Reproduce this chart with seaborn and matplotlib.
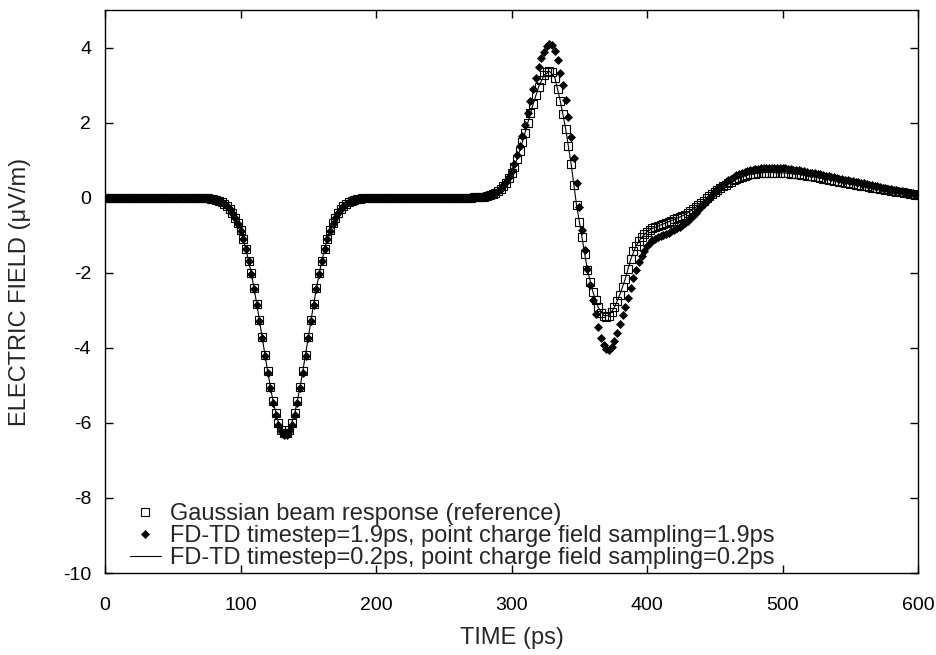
import numpy as np
import pandas as pd
import matplotlib
matplotlib.use("Agg")
import matplotlib.pyplot as plt
import seaborn as sns

# ---- data ----
# sample times for the marker series (ps)
time_coarse = list(range(0, 601, 2))
# sample times for the fine FD-TD line (ps)
time_fine = list(range(0, 601, 4))

# Gaussian beam response (reference), open squares
gaussian_ref = [
    0, 0, 0, 0, 0, 0, 0, 0, 0, 0,
    0, 0, 0, 0, 0, 0, 0, 0, 0, 0,
    0, 0, 0, 0, 0, 0, 0, 0, 0, 0,
    0, 0, 0, 0, 0, 0, -0.01, -0.01, -0.02, -0.03,
    -0.04, -0.06, -0.08, -0.11, -0.16, -0.22, -0.30, -0.40, -0.53, -0.68,
    -0.87, -1.11, -1.37, -1.68, -2.02, -2.41, -2.83, -3.27, -3.72, -4.18,
    -4.62, -5.04, -5.43, -5.75, -6.00, -6.18, -6.27, -6.27, -6.18, -6.00,
    -5.75, -5.43, -5.04, -4.62, -4.18, -3.72, -3.27, -2.83, -2.41, -2.02,
    -1.68, -1.37, -1.11, -0.87, -0.68, -0.53, -0.40, -0.30, -0.22, -0.16,
    -0.11, -0.08, -0.06, -0.04, -0.03, -0.02, -0.01, -0.01, 0, 0,
    0, 0, 0, 0, 0, 0, 0, 0, 0, 0,
    0, 0, 0, 0, 0, 0, 0, 0, 0, 0,
    0, 0, 0, 0, 0, 0, 0, 0, 0, 0,
    0, 0, 0, 0, 0, 0.00, 0.01, 0.01, 0.01, 0.02,
    0.03, 0.04, 0.06, 0.09, 0.12, 0.17, 0.23, 0.31, 0.40, 0.52,
    0.67, 0.83, 1.02, 1.24, 1.48, 1.73, 1.99, 2.25, 2.50, 2.74,
    2.95, 3.13, 3.26, 3.34, 3.37, 3.35, 3.20, 2.90, 2.58, 2.22,
    1.83, 1.38, 0.90, 0.35, -0.20, -0.65, -1.05, -1.50, -1.92, -2.25,
    -2.50, -2.72, -2.92, -3.06, -3.14, -3.17, -3.14, -3.05, -2.92, -2.76,
    -2.58, -2.38, -2.16, -1.90, -1.64, -1.43, -1.28, -1.16, -1.06, -0.98,
    -0.91, -0.86, -0.82, -0.79, -0.76, -0.73, -0.70, -0.67, -0.64, -0.61,
    -0.58, -0.55, -0.52, -0.49, -0.45, -0.41, -0.36, -0.31, -0.26, -0.20,
    -0.14, -0.08, -0.02, 0.04, 0.10, 0.16, 0.21, 0.26, 0.31, 0.35,
    0.39, 0.43, 0.47, 0.50, 0.53, 0.56, 0.58, 0.60, 0.62, 0.63,
    0.64, 0.65, 0.66, 0.66, 0.67, 0.67, 0.67, 0.67, 0.66, 0.66,
    0.66, 0.65, 0.65, 0.64, 0.63, 0.63, 0.62, 0.61, 0.60, 0.59,
    0.58, 0.57, 0.55, 0.54, 0.52, 0.51, 0.50, 0.48, 0.47, 0.45,
    0.44, 0.43, 0.41, 0.40, 0.38, 0.37, 0.36, 0.35, 0.33, 0.32,
    0.31, 0.30, 0.28, 0.27, 0.26, 0.25, 0.24, 0.22, 0.21, 0.20,
    0.18, 0.17, 0.16, 0.15, 0.14, 0.13, 0.12, 0.11, 0.09, 0.08,
    0.07,
]

# FD-TD timestep=1.9ps, filled diamonds
fdtd_coarse = [
    0, 0, 0, 0, 0, 0, 0, 0, 0, 0,
    0, 0, 0, 0, 0, 0, 0, 0, 0, 0,
    0, 0, 0, 0, 0, 0, 0, 0, 0, 0,
    0, 0, 0, 0, 0, 0, -0.01, -0.01, -0.02, -0.03,
    -0.04, -0.06, -0.08, -0.12, -0.16, -0.22, -0.30, -0.40, -0.53, -0.69,
    -0.88, -1.11, -1.38, -1.69, -2.04, -2.43, -2.85, -3.29, -3.75, -4.21,
    -4.66, -5.08, -5.47, -5.79, -6.05, -6.23, -6.32, -6.32, -6.23, -6.05,
    -5.79, -5.47, -5.08, -4.66, -4.21, -3.75, -3.29, -2.85, -2.43, -2.04,
    -1.69, -1.38, -1.11, -0.88, -0.69, -0.53, -0.40, -0.30, -0.22, -0.16,
    -0.12, -0.08, -0.06, -0.04, -0.03, -0.02, -0.01, -0.01, 0, 0,
    0, 0, 0, 0, 0, 0, 0, 0, 0, 0,
    0, 0, 0, 0, 0, 0, 0, 0, 0, 0,
    0, 0, 0, 0, 0, 0, 0, 0, 0, 0,
    0, 0, 0, 0, 0, 0.00, 0.01, 0.01, 0.01, 0.02,
    0.03, 0.04, 0.06, 0.09, 0.13, 0.18, 0.24, 0.33, 0.43, 0.56,
    0.72, 0.91, 1.13, 1.38, 1.65, 1.94, 2.26, 2.58, 2.89, 3.19,
    3.47, 3.71, 3.89, 4.03, 4.09, 4.08, 3.92, 3.66, 3.33, 3.00,
    2.60, 2.15, 1.62, 1.05, 0.38, -0.25, -0.85, -1.40, -1.90, -2.32,
    -2.72, -3.10, -3.45, -3.74, -3.93, -4.04, -4.05, -3.97, -3.82, -3.60,
    -3.36, -3.12, -2.90, -2.66, -2.40, -2.14, -1.92, -1.72, -1.56, -1.42,
    -1.30, -1.21, -1.14, -1.09, -1.05, -1.02, -0.99, -0.96, -0.93, -0.90,
    -0.86, -0.82, -0.78, -0.73, -0.68, -0.62, -0.55, -0.48, -0.41, -0.33,
    -0.25, -0.17, -0.09, -0.01, 0.07, 0.15, 0.22, 0.29, 0.35, 0.41,
    0.46, 0.51, 0.56, 0.60, 0.63, 0.66, 0.69, 0.71, 0.73, 0.75,
    0.76, 0.77, 0.78, 0.79, 0.79, 0.80, 0.80, 0.80, 0.80, 0.79,
    0.78, 0.78, 0.77, 0.76, 0.75, 0.74, 0.73, 0.72, 0.70, 0.69,
    0.67, 0.66, 0.65, 0.63, 0.62, 0.60, 0.59, 0.57, 0.55, 0.54,
    0.52, 0.51, 0.49, 0.48, 0.46, 0.45, 0.44, 0.42, 0.41, 0.39,
    0.38, 0.36, 0.35, 0.33, 0.32, 0.30, 0.29, 0.27, 0.26, 0.24,
    0.23, 0.21, 0.20, 0.19, 0.17, 0.16, 0.15, 0.13, 0.12, 0.11,
    0.10,
]

# FD-TD timestep=0.2ps, thin solid line
fdtd_fine = [
    0, 0, 0, 0, 0,
    0, 0, 0, 0, 0,
    0, 0, 0, 0, 0,
    0, 0, 0, -0.01, -0.02,
    -0.04, -0.08, -0.16, -0.30, -0.53,
    -0.87, -1.37, -2.02, -2.83, -3.72,
    -4.62, -5.43, -6.00, -6.27, -6.18,
    -5.75, -5.04, -4.18, -3.27, -2.41,
    -1.68, -1.11, -0.68, -0.40, -0.22,
    -0.11, -0.06, -0.03, -0.01, 0,
    0, 0, 0, 0, 0,
    0, 0, 0, 0, 0,
    0, 0, 0, 0, 0,
    0, 0, 0, 0.01, 0.01,
    0.03, 0.06, 0.12, 0.23, 0.40,
    0.67, 1.02, 1.48, 1.99, 2.50,
    2.95, 3.26, 3.37, 3.20, 2.58,
    1.83, 0.90, -0.20, -1.05, -1.92,
    -2.50, -2.92, -3.14, -3.14, -2.92,
    -2.58, -2.16, -1.64, -1.28, -1.06,
    -0.91, -0.82, -0.76, -0.70, -0.64,
    -0.58, -0.52, -0.45, -0.36, -0.26,
    -0.14, -0.02, 0.10, 0.21, 0.31,
    0.39, 0.47, 0.53, 0.58, 0.62,
    0.64, 0.66, 0.67, 0.67, 0.66,
    0.66, 0.65, 0.63, 0.62, 0.60,
    0.58, 0.55, 0.52, 0.50, 0.47,
    0.44, 0.41, 0.38, 0.36, 0.33,
    0.31, 0.28, 0.26, 0.24, 0.21,
    0.18, 0.16, 0.14, 0.12, 0.09,
    0.07,
]

labels = [
    "Gaussian beam response (reference)",
    "FD-TD timestep=1.9ps, point charge field sampling=1.9ps",
    "FD-TD timestep=0.2ps, point charge field sampling=0.2ps",
]
x_ticks = [0, 100, 200, 300, 400, 500, 600]
y_ticks = [-10, -8, -6, -4, -2, 0, 2, 4]
x_label = "TIME (ps)"
y_label = "ELECTRIC FIELD (\u03bcV/m)"

# ---- style ----
sns.set_style("ticks")
plt.rcParams["font.family"] = ["Liberation Sans", "DejaVu Sans"]
plt.rcParams["axes.unicode_minus"] = False
FS_TICK = 14
FS_LEG = 17
FS_LABEL = 17

W, H = 937, 655
AX_L, AX_R, AX_T, AX_B = 105, 918, 10, 573

df_c = pd.DataFrame({"t": time_coarse, "ref": gaussian_ref, "coarse": fdtd_coarse})
df_f = pd.DataFrame({"t": time_fine, "fine": fdtd_fine})

fig = plt.figure(figsize=(W / 100, H / 100), dpi=100)
ax = fig.add_axes([AX_L / W, 1 - AX_B / H, (AX_R - AX_L) / W, (AX_B - AX_T) / H])

sns.lineplot(data=df_c, x="t", y="ref", ax=ax, estimator=None, sort=False,
             linestyle="", marker="s", markersize=5.8, markerfacecolor="none",
             markeredgecolor="black", markeredgewidth=0.8, color="black",
             label=labels[0])
sns.lineplot(data=df_c, x="t", y="coarse", ax=ax, estimator=None, sort=False,
             linestyle="", marker="D", markersize=4.2, markerfacecolor="black",
             markeredgecolor="black", markeredgewidth=0.5, color="black",
             label=labels[1])
sns.lineplot(data=df_f, x="t", y="fine", ax=ax, estimator=None, sort=False,
             color="black", linewidth=0.8, label=labels[2])

ax.set_xlim(0, 600)
ax.set_ylim(-10, 5)
ax.set_xticks(x_ticks)
ax.set_yticks(y_ticks)
ax.set_xticklabels([str(v) for v in x_ticks], fontsize=FS_TICK)
ax.set_yticklabels([str(v) for v in y_ticks], fontsize=FS_TICK)
ax.tick_params(direction="in", length=6, width=1, top=True, right=True,
               colors="black")
ax.tick_params(axis="x", pad=17)
ax.tick_params(axis="y", pad=10)
for s in ax.spines.values():
    s.set_visible(True)
    s.set_linewidth(1)
    s.set_color("black")

ax.set_xlabel(x_label, fontsize=FS_LABEL)
ax.set_ylabel(y_label, fontsize=FS_LABEL)
ax.xaxis.label.set_va("center")
ax.yaxis.label.set_va("center")
ax.xaxis.set_label_coords(0.5, -(638 - AX_B) / (AX_B - AX_T))
ax.yaxis.set_label_coords(-(AX_L - 20) / (AX_R - AX_L), 0.5)

leg = ax.legend(loc="lower left", bbox_to_anchor=(21 / (AX_R - AX_L), 0.0),
                frameon=False, fontsize=FS_LEG, handlelength=1.35,
                handletextpad=0.35, labelspacing=0.0, borderaxespad=0.15,
                borderpad=0.0, numpoints=1)

fig.savefig("out.png", dpi=100)
